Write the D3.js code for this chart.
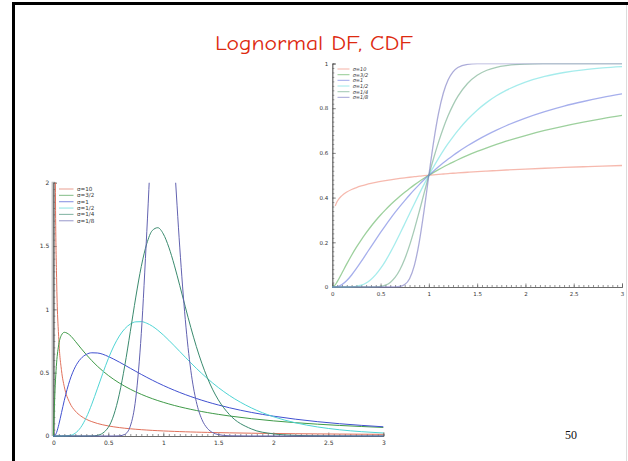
<!DOCTYPE html>
<html><head><meta charset="utf-8">
<script src="https://cdn.jsdelivr.net/npm/d3@7"></script>
<style>html,body{margin:0;padding:0;background:#fff;} svg{display:block}</style>
</head><body>
<script>
// ---------- DATA ----------
const seriesNames = ["σ=10", "σ=3/2", "σ=1", "σ=1/2", "σ=1/4", "σ=1/8"];

// density plot (left)
const pdfX = [0, 0.01, 0.02, 0.03, 0.05, 0.075, 0.1, 0.15, 0.2, 0.25, 0.3, 0.35, 0.4, 0.5, 0.55, 0.6, 0.65, 0.7, 0.75, 0.8, 0.85, 0.9, 0.95, 1.0, 1.05, 1.1, 1.15, 1.2, 1.25, 1.3, 1.35, 1.4, 1.45, 1.5, 1.6, 1.8, 2.0, 2.2, 2.4, 2.6, 2.8, 3.0];
const pdfSigma10 = [null, 3.588, 1.848, 1.2505, 0.7629, 0.5144, 0.3885, 0.2612, 0.1969, 0.1580, 0.1320, 0.1134, 0.0993, 0.0796, 0.0724, 0.0664, 0.0613, 0.0570, 0.0532, 0.0499, 0.0469, 0.0443, 0.0420, 0.0399, 0.0380, 0.0363, 0.0347, 0.0332, 0.0319, 0.0307, 0.0295, 0.0285, 0.0275, 0.0266, 0.0249, 0.0221, 0.0199, 0.0181, 0.0166, 0.0153, 0.0142, 0.0132];
const pdfSigma3_2 = [0, 0.2388, 0.4435, 0.5770, 0.7239, 0.7982, 0.8186, 0.7968, 0.7479, 0.6941, 0.6424, 0.5948, 0.5517, 0.4780, 0.4466, 0.4183, 0.3927, 0.3693, 0.3481, 0.3288, 0.3111, 0.2948, 0.2797, 0.2660, 0.2532, 0.2413, 0.2303, 0.2200, 0.2105, 0.2015, 0.1931, 0.1853, 0.1779, 0.1709, 0.1582, 0.1368, 0.1195, 0.1053, 0.0934, 0.0835, 0.0751, 0.0678];
const pdfSigma1 = [0, 0.0010, 0.0095, 0.0284, 0.0898, 0.1856, 0.2815, 0.4399, 0.5463, 0.6104, 0.6442, 0.6570, 0.6555, 0.6276, 0.6066, 0.5836, 0.5594, 0.5348, 0.5103, 0.4864, 0.4632, 0.4408, 0.4194, 0.3989, 0.3795, 0.3611, 0.3435, 0.3270, 0.3113, 0.2965, 0.2825, 0.2693, 0.2567, 0.2450, 0.2232, 0.1864, 0.1569, 0.1329, 0.1133, 0.0972, 0.0839, 0.0727];
const pdfSigma1_2 = [0, 0, 0, 0, 0, 0, 0.0002, 0.0040, 0.0225, 0.0683, 0.1465, 0.2515, 0.3721, 0.6105, 0.7098, 0.7891, 0.8469, 0.8838, 0.9014, 0.9028, 0.8903, 0.8671, 0.8354, 0.7979, 0.7562, 0.7123, 0.6672, 0.6222, 0.5779, 0.5348, 0.4935, 0.4545, 0.4174, 0.3829, 0.3205, 0.2221, 0.1527, 0.1046, 0.0718, 0.0494, 0.0342, 0.0238];
const pdfSigma1_4 = [0, 0, 0, 0, 0, 0, 0, 0, 0, 0, 0, 0.0007, 0.0048, 0.0684, 0.1663, 0.3299, 0.5562, 0.8240, 1.0970, 1.3392, 1.5198, 1.6224, 1.6446, 1.5958, 1.4909, 1.3492, 1.1868, 1.0196, 0.8572, 0.7074, 0.5749, 0.4609, 0.3646, 0.2856, 0.1703, 0.0559, 0.0171, 0.0050, 0.0014, 0.0004, 0.0001, 0];
const pdfSigma1_8 = [0, 0, 0, 0, 0, 0, 0, 0, 0, 0, 0, 0, 0, 0, 0, 0.0013, 0.0129, 0.0778, 0.3007, 0.8106, 1.6131, 2.4854, 3.0880, 3.1915, 2.8163, 2.1699, 1.4851, 0.9185, 0.5188, 0.2708, 0.1323, 0.0609, 0.0265, 0.0111, 0.0017, 0, 0, 0, 0, 0, 0, 0];

// cumulative plot (right)
const cdfX = [0, 0.03, 0.05, 0.1, 0.15, 0.2, 0.25, 0.3, 0.35, 0.4, 0.45, 0.5, 0.55, 0.6, 0.65, 0.7, 0.75, 0.8, 0.85, 0.9, 0.95, 1.0, 1.05, 1.1, 1.15, 1.2, 1.25, 1.3, 1.4, 1.5, 1.6, 1.7, 1.8, 2.0, 2.2, 2.4, 2.6, 2.8, 3.0];
const cdfSigma10 = [null, 0.3629, 0.3822, 0.4089, 0.4248, 0.4361, 0.4449, 0.4521, 0.4582, 0.4635, 0.4682, 0.4724, 0.4762, 0.4796, 0.4828, 0.4858, 0.4885, 0.4911, 0.4935, 0.4958, 0.4980, 0.5000, 0.5019, 0.5038, 0.5056, 0.5073, 0.5089, 0.5105, 0.5134, 0.5162, 0.5187, 0.5211, 0.5234, 0.5276, 0.5314, 0.5349, 0.5380, 0.5410, 0.5437];
const cdfSigma3_2 = [0, 0.0097, 0.0229, 0.0626, 0.1032, 0.1419, 0.1780, 0.2111, 0.2420, 0.2707, 0.2976, 0.3222, 0.3451, 0.3669, 0.3870, 0.4061, 0.4239, 0.4410, 0.4569, 0.4720, 0.4864, 0.5000, 0.5130, 0.5253, 0.5371, 0.5483, 0.5590, 0.5694, 0.5887, 0.6064, 0.6229, 0.6380, 0.6524, 0.6778, 0.7003, 0.7201, 0.7377, 0.7536, 0.7678];
const cdfSigma1 = [0, 0.0002, 0.0014, 0.0107, 0.0289, 0.0538, 0.0830, 0.1144, 0.1472, 0.1800, 0.2124, 0.2442, 0.2751, 0.3048, 0.3335, 0.3608, 0.3868, 0.4118, 0.4355, 0.4580, 0.4795, 0.5000, 0.5195, 0.5380, 0.5556, 0.5723, 0.5882, 0.6035, 0.6317, 0.6574, 0.6808, 0.7020, 0.7216, 0.7558, 0.7846, 0.8094, 0.8300, 0.8481, 0.8640];
const cdfSigma1_2 = [0, 0, 0, 0, 0.0001, 0.0006, 0.0028, 0.0080, 0.0179, 0.0336, 0.0551, 0.0830, 0.1160, 0.1537, 0.1948, 0.2380, 0.2827, 0.3279, 0.3727, 0.4166, 0.4591, 0.5000, 0.5389, 0.5756, 0.6101, 0.6421, 0.6721, 0.6999, 0.7493, 0.7912, 0.8261, 0.8554, 0.8799, 0.9170, 0.9424, 0.9598, 0.9719, 0.9802, 0.9860];
const cdfSigma1_4 = [0, 0, 0, 0, 0, 0, 0, 0, 0, 0.0001, 0.0007, 0.0028, 0.0084, 0.0205, 0.0426, 0.0770, 0.1252, 0.1862, 0.2581, 0.3368, 0.4187, 0.5000, 0.5774, 0.6484, 0.7117, 0.7668, 0.8138, 0.8527, 0.9106, 0.9474, 0.9699, 0.9831, 0.9906, 0.9972, 0.9992, 0.9998, 1, 1, 1];
const cdfSigma1_8 = [0, 0, 0, 0, 0, 0, 0, 0, 0, 0, 0, 0, 0, 0, 0.0003, 0.0022, 0.0107, 0.0372, 0.0968, 0.1999, 0.3408, 0.5000, 0.6518, 0.7768, 0.8681, 0.9274, 0.9628, 0.9821, 0.9964, 0.9994, 0.9999, 1, 1, 1, 1, 1, 1, 1, 1];

// tick labels
const xTickLabels = ["0", "0.5", "1", "1.5", "2", "2.5", "3"];
const pdfYTickLabels = ["0", "0.5", "1", "1.5", "2"];
const cdfYTickLabels = ["0", "0.2", "0.4", "0.6", "0.8", "1"];

// ---------- DRAW ----------
const W = 628, H = 461;
const svg = d3.select("body").append("svg").attr("width", W).attr("height", H);

// slide frame
svg.append("line").attr("x1", 12).attr("x2", 628).attr("y1", 3.5).attr("y2", 3.5)
  .attr("stroke", "#000").attr("stroke-width", 3);
svg.append("line").attr("x1", 13.5).attr("x2", 13.5).attr("y1", 2).attr("y2", H)
  .attr("stroke", "#000").attr("stroke-width", 3);
svg.append("line").attr("x1", 626.5).attr("x2", 626.5).attr("y1", 5).attr("y2", H)
  .attr("stroke", "#dcdcdc").attr("stroke-width", 1);

// title
svg.append("text").attr("x", 314).attr("y", 50).attr("text-anchor", "middle")
  .attr("font-family", "'Comic Sans MS','Comic Neue','DejaVu Sans',sans-serif")
  .attr("font-size", 21).attr("fill", "#dd2a10")
  .attr("textLength", 198).attr("lengthAdjust", "spacingAndGlyphs")
  .text("Lognormal DF, CDF");

// page number
svg.append("text").attr("x", 571).attr("y", 439).attr("text-anchor", "middle")
  .attr("font-family", "'Liberation Serif','Times New Roman',serif")
  .attr("font-size", 12).attr("fill", "#111").text("50");

function drawPanel(o) {
  const x = d3.scaleLinear().domain([0, 3]).range(o.xRange);
  const y = d3.scaleLinear().domain(o.yDomain).range(o.yRange);
  const g = svg.append("g");
  const clipId = "clip" + o.id;
  svg.append("clipPath").attr("id", clipId).append("rect")
    .attr("x", o.xRange[0] - 1).attr("y", o.yRange[1])
    .attr("width", o.xRange[1] - o.xRange[0] + 2).attr("height", o.yRange[0] - o.yRange[1] + 1);

  if (o.thickAxis) {
    g.append("line").attr("x1", x(0)).attr("x2", x(0)).attr("y1", y(o.yDomain[0])).attr("y2", y(o.yDomain[1]) - 1)
      .attr("stroke", "#c4c4c4").attr("stroke-width", 3.5);
  }

  // axes: minor ticks
  const xMinor = d3.axisBottom(x).tickValues(d3.range(0, 3.0001, 0.05)).tickSize(-2).tickFormat("");
  const yMinor = d3.axisLeft(y).tickValues(d3.range(o.yDomain[0], o.yDomain[1] + 1e-6, o.yMinorStep)).tickSize(-2).tickFormat("");
  const xMajor = d3.axisBottom(x).tickValues(xTickLabels.map(Number)).tickSize(-3.5).tickPadding(5)
    .tickFormat((d, i) => xTickLabels[i]);
  const yMajor = d3.axisLeft(y).tickValues(o.yLabels.map(Number)).tickSize(-3.5).tickPadding(4)
    .tickFormat((d, i) => o.yLabels[i]);

  const axes = [
    [xMinor, `translate(0,${o.yRange[0]})`],
    [xMajor, `translate(0,${o.yRange[0]})`],
    [yMinor, `translate(${o.xRange[0]},0)`],
    [yMajor, `translate(${o.xRange[0]},0)`]
  ];
  axes.forEach(([ax, tr]) => {
    const a = g.append("g").attr("transform", tr).call(ax);
    a.select(".domain").attr("stroke", "#666").attr("stroke-width", 0.8);
    a.selectAll(".tick line").attr("stroke", "#666").attr("stroke-width", 0.7);
    a.selectAll(".tick text").attr("font-family", "'DejaVu Sans',sans-serif")
      .attr("font-size", o.labelSize).attr("fill", "#333");
  });

  // curves
  const curves = g.append("g").attr("clip-path", `url(#${clipId})`);
  o.series.forEach((vals, i) => {
    const pts = o.xs.map((xv, j) => [xv, vals[j]]);
    const line = d3.line().defined(d => d[1] !== null)
      .x(d => x(d[0])).y(d => y(d[1])).curve(d3.curveMonotoneX);
    curves.append("path").attr("d", line(pts)).attr("fill", "none")
      .attr("stroke", o.colors[i]).attr("stroke-width", o.lineWidth)
      .attr("stroke-opacity", o.opacity);
  });

  // legend
  const lg = g.append("g");
  seriesNames.forEach((name, i) => {
    const yy = o.legend.y0 + i * o.legend.dy;
    lg.append("line").attr("x1", o.legend.x0).attr("x2", o.legend.x1).attr("y1", yy).attr("y2", yy)
      .attr("stroke", o.colors[i]).attr("stroke-width", 1.1).attr("stroke-opacity", o.legendOpacity);
    lg.append("text").attr("x", o.legend.tx).attr("y", yy + 2)
      .attr("font-family", "'DejaVu Sans',sans-serif").attr("font-size", o.legend.size)
      .attr("font-style", o.legend.italic ? "italic" : "normal")
      .attr("fill", "#333").text(name);
  });
}

drawPanel({
  id: "pdf",
  xRange: [53.3, 383.3], yRange: [436, 182.7], yDomain: [0, 2],
  yMinorStep: 0.05, yLabels: pdfYTickLabels, labelSize: 6, thickAxis: true,
  xs: pdfX,
  series: [pdfSigma10, pdfSigma3_2, pdfSigma1, pdfSigma1_2, pdfSigma1_4, pdfSigma1_8],
  colors: ["#e0705a", "#3f9a48", "#4050d0", "#4fd4d4", "#3a8a6e", "#6262b0"],
  lineWidth: 1, opacity: 1, legendOpacity: 0.6,
  legend: { x0: 59, x1: 73.5, tx: 77, y0: 189, dy: 6.35, size: 5.6, italic: false }
});

drawPanel({
  id: "cdf",
  xRange: [332.3, 622], yRange: [287, 63.5], yDomain: [0, 1],
  yMinorStep: 0.02, yLabels: cdfYTickLabels, labelSize: 5.5, thickAxis: false,
  xs: cdfX,
  series: [cdfSigma10, cdfSigma3_2, cdfSigma1, cdfSigma1_2, cdfSigma1_4, cdfSigma1_8],
  colors: ["#f08a78", "#5cb05c", "#6a7ae0", "#6ae0e0", "#6aa886", "#7474c0"],
  lineWidth: 1.3, opacity: 0.6, legendOpacity: 0.6,
  legend: { x0: 337.5, x1: 349.5, tx: 352.7, y0: 69, dy: 5.67, size: 5, italic: true }
});
</script>
</body></html>
